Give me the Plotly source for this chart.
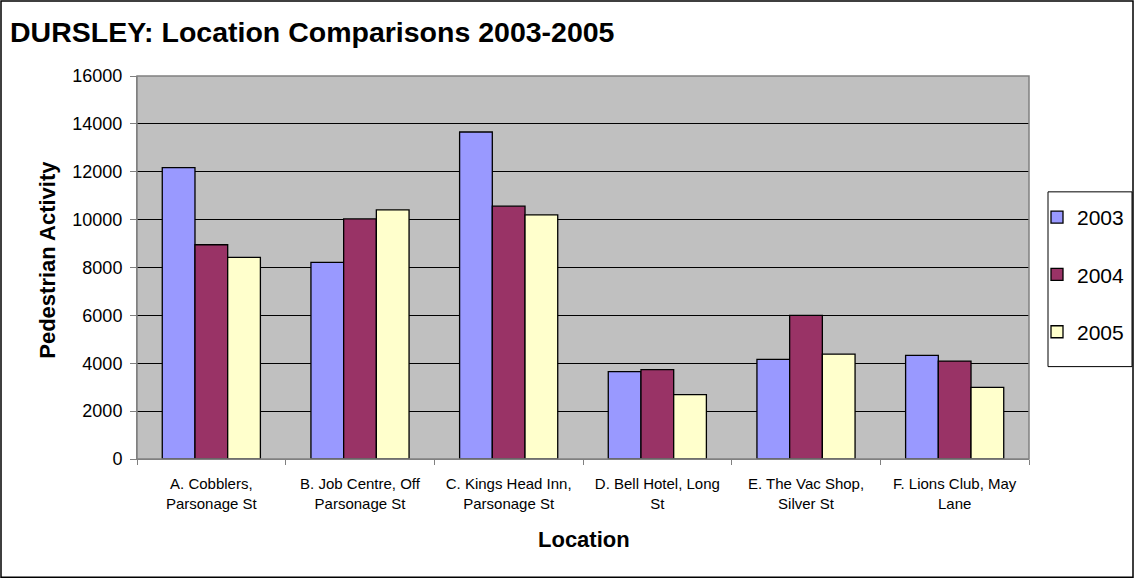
import plotly.graph_objects as go

categories = ["A. Cobblers,<br>Parsonage St", "B. Job Centre, Off<br>Parsonage St",
              "C. Kings Head Inn,<br>Parsonage St", "D. Bell Hotel, Long<br>St",
              "E. The Vac Shop,<br>Silver St", "F. Lions Club, May<br>Lane"]
years = ["2003", "2004", "2005"]
v2003 = [12170, 8210, 13660, 3650, 4160, 4330]
v2004 = [8950, 10030, 10560, 3730, 6000, 4090]
v2005 = [8420, 10410, 10200, 2690, 4380, 2990]
colors = ["#9999FF", "#993366", "#FFFFCC"]
ytickvals = [0, 2000, 4000, 6000, 8000, 10000, 12000, 14000, 16000]
yticktext = ["0", "2000", "4000", "6000", "8000", "10000", "12000", "14000", "16000"]

W, H = 1135, 579
L, R, T, B = 137, 1029, 76, 459.5
pw, ph = R - L, B - T


def px_to_paper(px, py):
    return (px - L) / pw, (B - py) / ph


fig = go.Figure()
for i, (name, vals) in enumerate(zip(years, [v2003, v2004, v2005])):
    fig.add_trace(go.Bar(x=categories, y=vals, name=name, legendgroup=name,
                         marker=dict(color=colors[i], line=dict(color="black", width=1.3))))

font = "Arial, Liberation Sans, sans-serif"
ax_y_x, ax_y_y = px_to_paper(48, 260)
ax_x_x, ax_x_y = px_to_paper(584, 540)
b0x, b0y = px_to_paper(1, 578)
b1x, b1y = px_to_paper(W - 2, 1)
lg0x, lg0y = px_to_paper(1048, 367)
lg1x, lg1y = px_to_paper(1132, 192)

fig.update_layout(
    width=W, height=H,
    margin=dict(l=L, r=W - R, t=T, b=H - B, autoexpand=False),
    paper_bgcolor="white", plot_bgcolor="#C0C0C0",
    barmode="group", bargap=0.34, bargroupgap=0,
    font=dict(family=font, color="black"),
    title=dict(text="<b>DURSLEY: Location Comparisons 2003-2005</b>",
               font=dict(size=28.5, family=font), xref="container", yref="container",
               x=10 / W, xanchor="left", y=1 - 32 / H, yanchor="middle"),
    showlegend=True,
    legend=dict(x=1037 / W, xref="container", y=1 - 197 / H, yref="container",
                xanchor="left", yanchor="top", borderwidth=0,
                font=dict(size=21, family=font), tracegroupgap=27, traceorder="grouped",
                itemwidth=30, bgcolor="rgba(0,0,0,0)"),
    xaxis=dict(tickson="boundaries", ticks="outside", ticklen=5, tickcolor="#808080",
               showline=True, linecolor="#808080", linewidth=1,
               tickfont=dict(size=15, family=font), showgrid=False, ticklabelstandoff=11),
    yaxis=dict(range=[0, 16000], tickvals=ytickvals, ticktext=yticktext, ticks="outside",
               ticklen=6, tickcolor="#808080", showline=True, linecolor="#808080",
               linewidth=1, showgrid=True, gridcolor="black", gridwidth=1,
               tickfont=dict(size=18, family=font), zeroline=False, ticklabelstandoff=4),
    annotations=[
        dict(text="<b>Pedestrian Activity</b>", textangle=-90, x=ax_y_x, y=ax_y_y,
             xanchor="center", yanchor="middle",
             xref="paper", yref="paper", showarrow=False, font=dict(size=22, family=font)),
        dict(text="<b>Location</b>", x=ax_x_x, y=ax_x_y, xref="paper", yref="paper",
             xanchor="center", yanchor="middle",
             showarrow=False, font=dict(size=22, family=font)),
    ],
    shapes=[
        dict(type="rect", xref="paper", yref="paper", x0=b0x, x1=b1x, y0=b0y, y1=b1y,
             line=dict(color="black", width=1.5), layer="below"),
        dict(type="rect", xref="paper", yref="paper", x0=lg0x, x1=lg1x, y0=lg0y, y1=lg1y,
             line=dict(color="black", width=1), fillcolor="white", layer="below"),
        dict(type="rect", xref="paper", yref="paper", x0=0, x1=1, y0=0, y1=1,
             line=dict(color="#808080", width=1.5)),
    ],
)
fig.write_html("out.html")
